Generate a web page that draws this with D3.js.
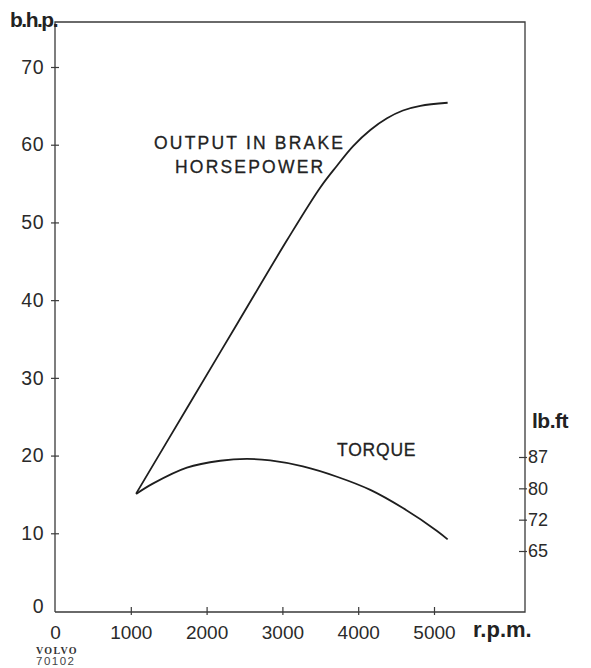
<!DOCTYPE html>
<html><head><meta charset="utf-8">
<script src="https://cdn.jsdelivr.net/npm/d3@7"></script>
<style>
html,body{margin:0;padding:0;background:#fff;}
svg{display:block;}
</style></head>
<body>
<script>
// ---- data ----
const powerRpm = [1070, 1740, 2400, 3060, 3500, 3720, 3930, 4160, 4380, 4590, 4820, 5180];
const powerBhp = [15.1, 26.1, 36.9, 47.7, 54.5, 57.3, 59.8, 61.9, 63.4, 64.4, 65.0, 65.4];
const torqueRpm = [1070, 1290, 1740, 2180, 2530, 2840, 3270, 3720, 4160, 4590, 5040, 5180];
const torqueKgm = [10.82, 11.15, 11.66, 11.88, 11.94, 11.89, 11.70, 11.37, 10.95, 10.37, 9.64, 9.37];
const rpmTicks = [0, 1000, 2000, 3000, 4000, 5000];
const bhpTicks = [0, 10, 20, 30, 40, 50, 60, 70];
const torqueTicks = [9, 10, 11, 12];           // kgm positions
const torqueTickLabels = ["65", "72", "80", "87"]; // lb.ft labels

const W = 591, H = 668;
const svg = d3.select("body").append("svg").attr("width", W).attr("height", H);

const x = d3.scaleLinear().domain([0, 5000]).range([55, 434]);
const y = d3.scaleLinear().domain([0, 70]).range([611, 67]);
const yT = d3.scaleLinear().domain([9, 12]).range([551, 457]);

const frameTop = 22, frameRight = 525, axisCol = "#3a3a3a";
const x0 = x(0), yBase = y(0);

// frame
svg.append("path")
  .attr("d", `M${x0},${yBase + 1}V${frameTop}H${frameRight}V${yBase + 1}H${x0}`)
  .attr("fill", "none").attr("stroke", axisCol).attr("stroke-width", 1.3);

const sansFont = "'Liberation Sans', Arial, sans-serif";

// left axis
const yAxis = svg.append("g").attr("transform", `translate(${x0},0)`)
  .call(d3.axisLeft(y).tickValues(bhpTicks).tickSize(4).tickPadding(7));
yAxis.select(".domain").remove();
yAxis.selectAll(".tick line").attr("x1", 4).attr("x2", -4).attr("stroke", axisCol).attr("stroke-width", 1.2);
yAxis.selectAll(".tick text").attr("font-family", sansFont).attr("font-size", 19.5).attr("fill", "#2a2a2a")
  .attr("letter-spacing", 0.5);
yAxis.selectAll(".tick").filter(d => d === 0).select("line").remove();
yAxis.selectAll(".tick").filter(d => d === 0).select("text").attr("dy", "0.1em");

// bottom axis
const xAxis = svg.append("g").attr("transform", `translate(0,${yBase})`)
  .call(d3.axisBottom(x).tickValues(rpmTicks).tickFormat(d3.format("d")).tickSize(4).tickPadding(11));
xAxis.select(".domain").remove();
xAxis.selectAll(".tick line").attr("y1", -4).attr("y2", 4).attr("stroke", axisCol).attr("stroke-width", 1.2);
xAxis.selectAll(".tick text").attr("font-family", sansFont).attr("font-size", 19).attr("fill", "#2a2a2a");
xAxis.selectAll(".tick").filter(d => d === 0).select("line").remove();

// right axis (torque)
const rAxis = svg.append("g").attr("transform", `translate(${frameRight},0)`)
  .call(d3.axisRight(yT).tickValues(torqueTicks).tickSize(2).tickPadding(1)
    .tickFormat((d, i) => torqueTickLabels[i]));
rAxis.select(".domain").remove();
rAxis.selectAll(".tick line").attr("x1", -6).attr("x2", 2).attr("stroke", axisCol).attr("stroke-width", 1.2);
rAxis.selectAll(".tick text").attr("font-family", sansFont).attr("font-size", 18).attr("fill", "#2a2a2a");

// unit labels
const boldFont = "'Liberation Sans', Arial, sans-serif";
svg.append("text").attr("x", 10).attr("y", 27).text("b.h.p.")
  .attr("font-family", boldFont).attr("font-weight", "bold").attr("font-size", 21)
  .attr("letter-spacing", -1.5).attr("fill", "#222");
svg.append("text").attr("x", 532).attr("y", 428).text("lb.ft")
  .attr("font-family", boldFont).attr("font-weight", "bold").attr("font-size", 21)
  .attr("letter-spacing", -0.5).attr("fill", "#222");
svg.append("text").attr("x", 473).attr("y", 637).text("r.p.m.")
  .attr("font-family", boldFont).attr("font-weight", "bold").attr("font-size", 22)
  .attr("letter-spacing", 0).attr("fill", "#222");

// curves
const powerData = powerRpm.map((r, i) => [r, powerBhp[i]]);
const torqueData = torqueRpm.map((r, i) => [r, torqueKgm[i]]);
const smooth = d3.curveCatmullRom.alpha(0.5);
svg.append("path").datum(powerData)
  .attr("d", d3.line().x(d => x(d[0])).y(d => y(d[1])).curve(smooth))
  .attr("fill", "none").attr("stroke", "#1e1e1e").attr("stroke-width", 1.8);
svg.append("path").datum(torqueData)
  .attr("d", d3.line().x(d => x(d[0])).y(d => yT(d[1])).curve(smooth))
  .attr("fill", "none").attr("stroke", "#1e1e1e").attr("stroke-width", 1.8);

// curve labels
const lab = (t, xx, yy, ls) => svg.append("text").attr("x", xx).attr("y", yy).text(t)
  .attr("font-family", sansFont).attr("font-size", 17.5).attr("letter-spacing", ls).attr("fill", "#222")
  .attr("stroke", "#222").attr("stroke-width", 0.3);
lab("OUTPUT IN BRAKE", 154, 149, 2.2);
lab("HORSEPOWER", 175, 173, 2.2);
lab("TORQUE", 337, 456, 0.8);

// maker mark
svg.append("text").attr("x", 36).attr("y", 654).text("VOLVO")
  .attr("font-family", "'Liberation Serif', serif").attr("font-weight", "bold").attr("font-size", 10)
  .attr("letter-spacing", 1.3).attr("fill", "#333");
svg.append("text").attr("x", 36).attr("y", 665).text("70102")
  .attr("font-family", sansFont).attr("font-size", 11.5).attr("letter-spacing", 1.5).attr("fill", "#444");
</script>
</body></html>
